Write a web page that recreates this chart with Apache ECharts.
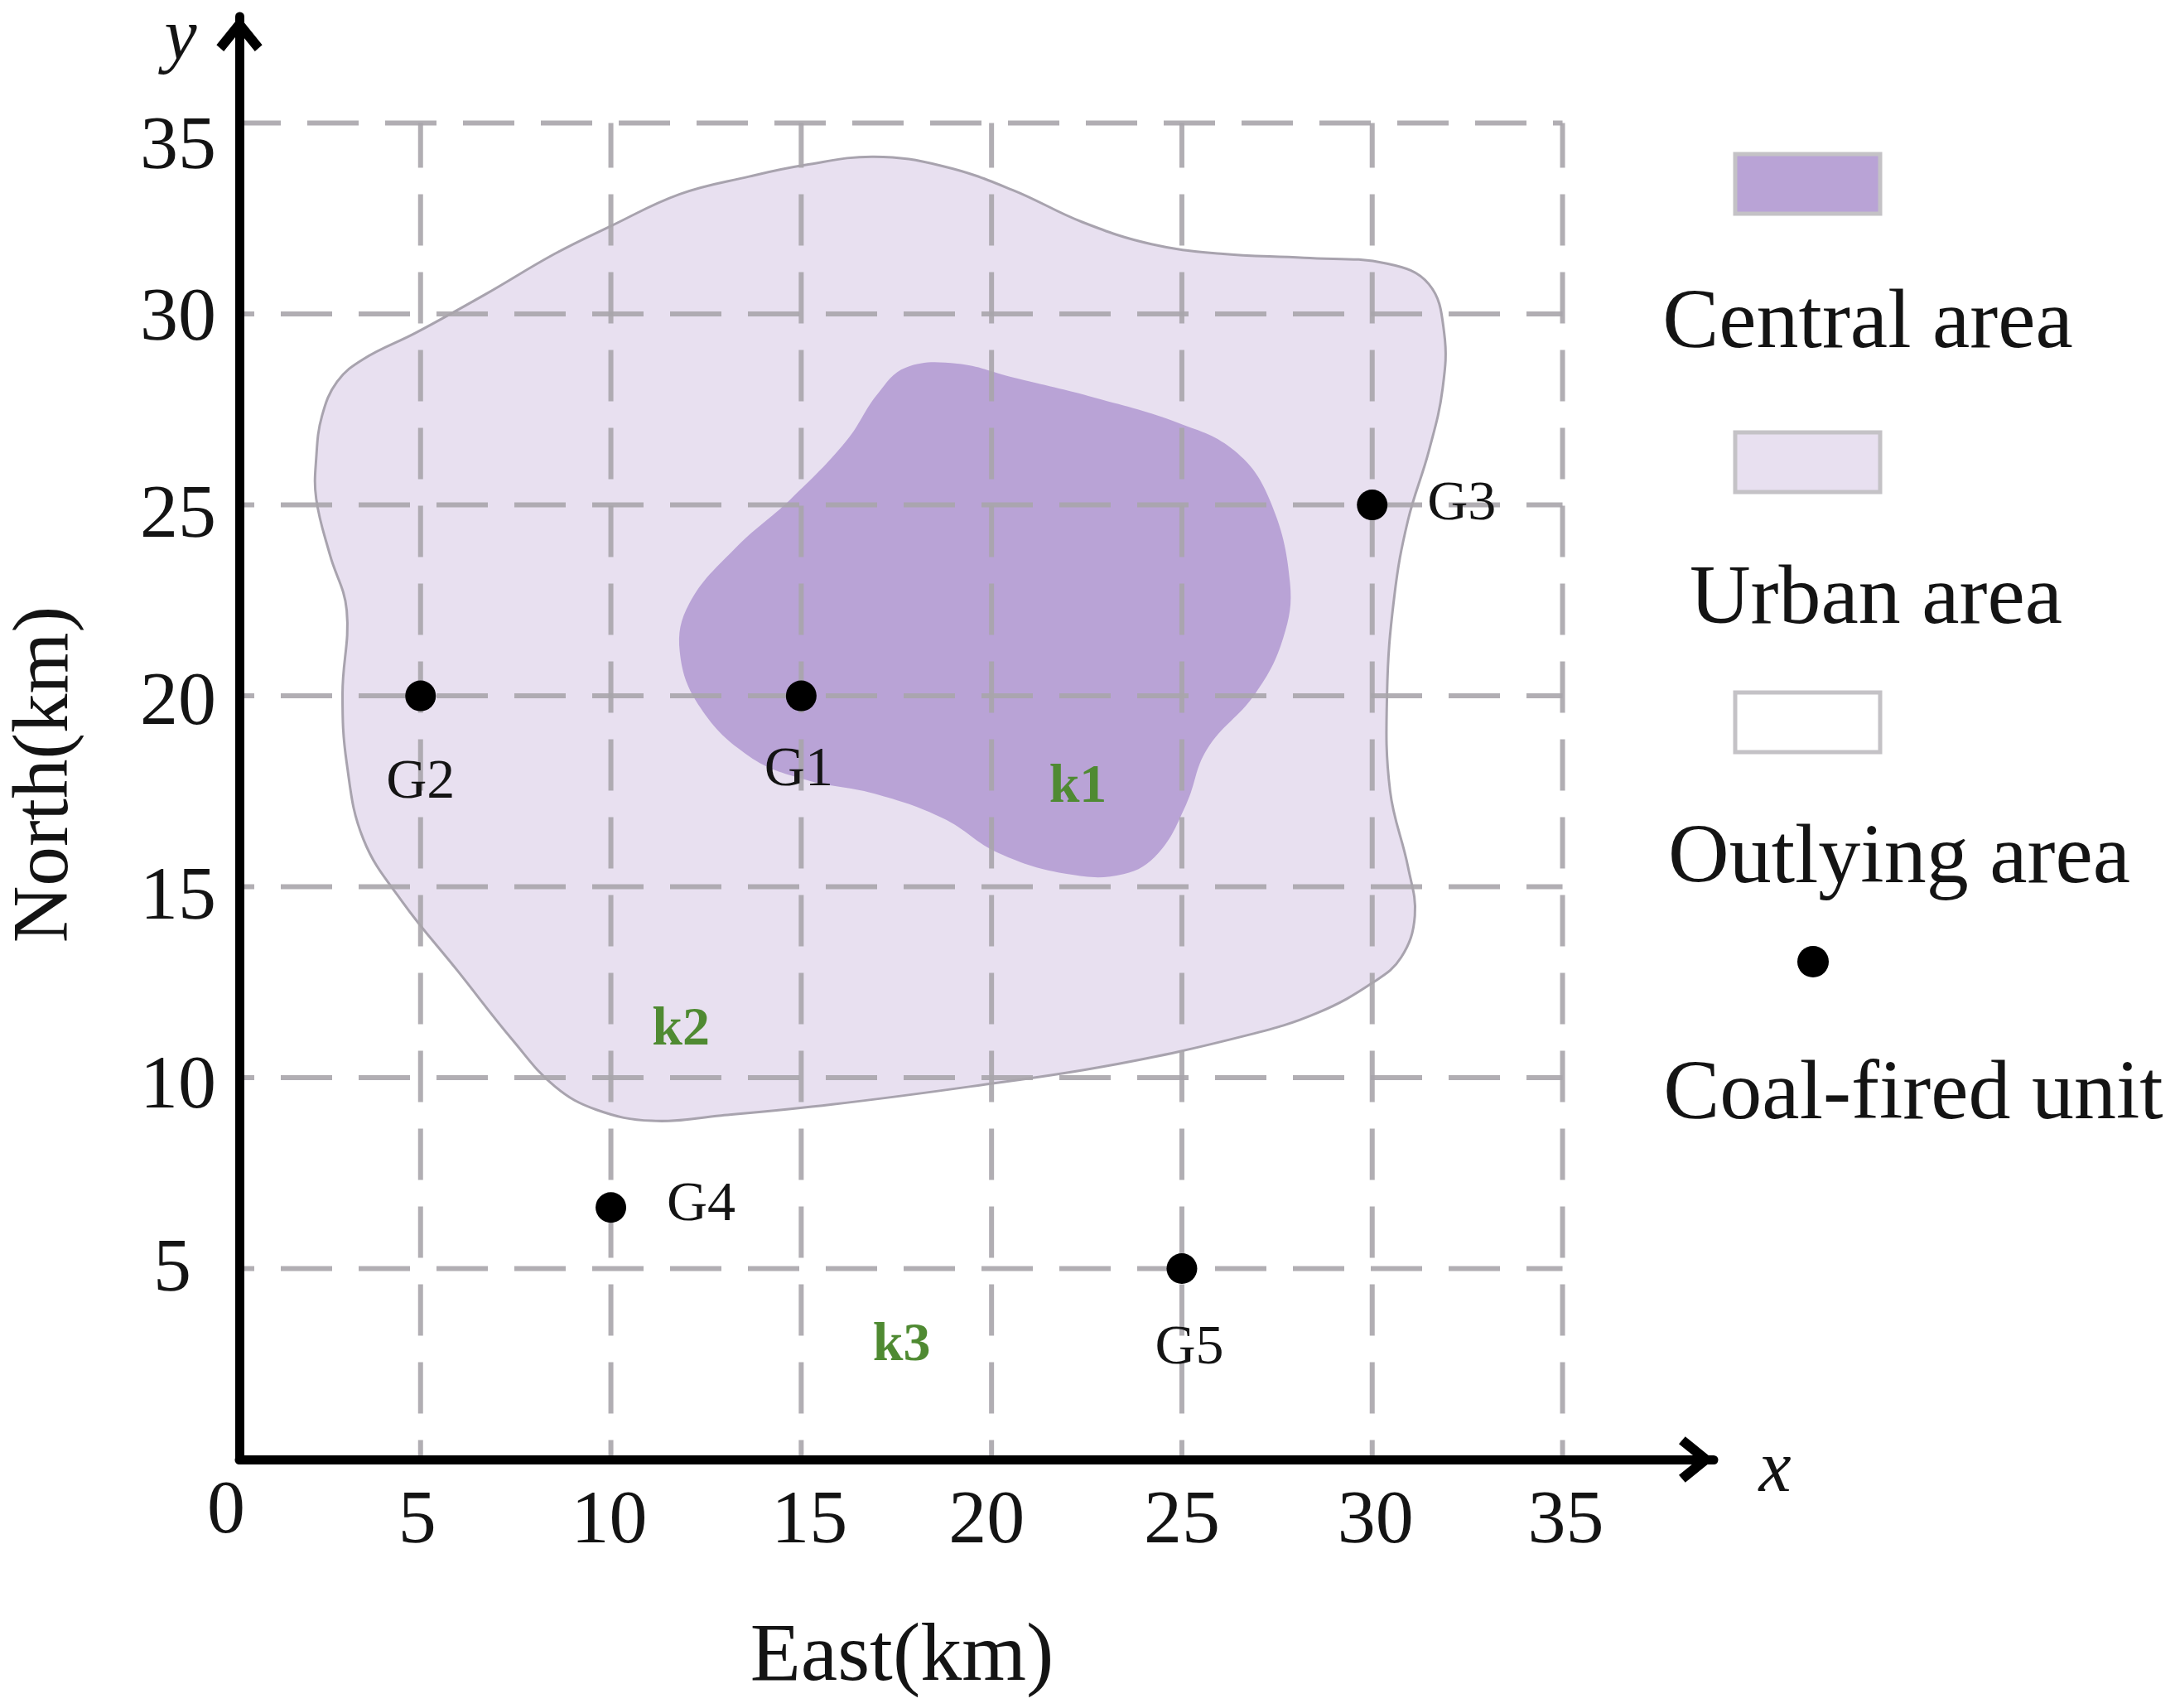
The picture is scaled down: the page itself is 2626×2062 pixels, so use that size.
<!DOCTYPE html>
<html><head><meta charset="utf-8">
<style>html,body{margin:0;padding:0;background:#fff}#c{width:2626px;height:2062px}</style>
<script src="https://cdn.jsdelivr.net/npm/echarts@6/dist/echarts.min.js"></script>
</head><body><div id="c"></div>
<script>
const xTicks = [5, 10, 15, 20, 25, 30, 35];
const yTicks = [5, 10, 15, 20, 25, 30, 35];
const urbanBoundary = [[2.26,26.24],[2.41,27.33],[2.81,28.23],[3.5,28.82],[4.88,29.51],[6.71,30.52],[8.53,31.58],[9.99,32.3],[11.81,33.14],[13.63,33.6],[15.09,33.9],[16.91,34.12],[18.73,33.87],[20.55,33.25],[22.38,32.41],[24.2,31.83],[26.02,31.58],[28.21,31.47],[30.39,31.32],[31.49,30.78],[31.89,29.51],[31.85,28.05],[31.49,26.42],[30.94,24.6],[30.58,22.6],[30.39,20.06],[30.47,17.51],[30.94,15.52],[31.12,14.24],[30.76,13.15],[30.03,12.5],[28.57,11.7],[26.75,11.12],[23.1,10.32],[19.46,9.77],[15.82,9.3],[12.9,9.01],[11.08,8.87],[9.62,9.16],[8.53,9.77],[7.43,10.97],[5.98,12.79],[4.52,14.61],[3.5,16.24],[3.06,18.24],[2.95,20.06],[3.06,22.24],[2.62,23.69],[2.26,25.15]];
const centralBoundary = [[17.75,28.6],[19.1,28.7],[20.55,28.34],[22.74,27.8],[24.93,27.14],[26.38,26.42],[27.3,25.15],[27.84,22.97],[27.66,21.51],[26.93,20.06],[25.66,18.6],[25.11,17.15],[24.38,15.88],[23.47,15.33],[22.01,15.33],[20.19,15.88],[18.73,16.79],[16.91,17.44],[15.09,17.81],[13.63,18.42],[12.35,19.69],[11.81,21.15],[12.06,22.42],[13.27,23.87],[14.72,25.15],[16.18,26.67],[17.0,27.9]];
const unitNames = ['G1', 'G2', 'G3', 'G4', 'G5'];
const unitEast = [15, 5, 30, 10, 25];
const unitNorth = [20, 20, 25, 6.6, 5];
const zoneNames = ['k1', 'k2', 'k3'];
const zoneEast = [22.27, 11.84, 17.64];
const zoneNorth = [17.59, 11.23, 2.98];
const legendNames = ['Central area', 'Urban area', 'Outlying area', 'Coal-fired unit'];

const SERIF = '"Liberation Serif","Times New Roman",serif';
const TXT = '#141414', GRID = '#a9a5ab';
const X_MIN = 0.24, X_MAX = 38.97, Y_MAX = 37.79;
const unitOffsets = [[-3, 90], [0, 105], [108, 0], [109, -3], [9, 97]];
const yShift = {5: 2, 10: 12, 15: 14, 20: 10, 25: 14, 30: 7, 35: 30};
const xShift = {5: -4, 10: -2, 15: 10, 20: -6, 25: 0, 30: 4, 35: 4};

function rich(map, horizontal) {
  const r = {};
  for (const k in map) {
    const s = map[k];
    const base = {fontFamily: SERIF, fontSize: 92, color: TXT};
    base.padding = horizontal ? [0, s < 0 ? -2 * s : 0, 0, s > 0 ? 2 * s : 0] : [2 * s, k === '5' ? 30 : 0, 0, 0];
    r['t' + k] = base;
  }
  return r;
}
function polygonSeries(name, pts, fill, stroke, z) {
  return {
    type: 'custom', name, data: pts, z, silent: true, clip: false, animation: false,
    encode: {x: 0, y: 1},
    renderItem(params, api) {
      if (params.dataIndex !== 0) return null;
      return {type: 'polygon',
        shape: {points: pts.map(p => api.coord(p)), smooth: 0.4},
        style: {fill, stroke, lineWidth: stroke === 'none' ? 0 : 3}};
    }
  };
}
function gridSeries(data, offset) {
  return {type: 'line', data, z: 4, silent: true, symbol: 'none', animation: false, clip: false,
    lineStyle: {color: GRID, width: 6, type: [62, 32], dashOffset: offset, opacity: 0.9}};
}
const series = [
  polygonSeries('Urban area', urbanBoundary, '#e8e0f0', '#a8a3ae', 1),
  polygonSeries('Central area', centralBoundary, '#b9a3d6', 'none', 2)
];
xTicks.forEach(v => series.push(gridSeries([[v, 35], [v, 0]], 8)));
yTicks.forEach(v => series.push(gridSeries([[X_MIN, v], [35, v]], v === 35 ? 12 : 44)));
series.push({
  type: 'scatter', name: 'Coal-fired unit', z: 6, symbolSize: 37, animation: false, silent: true,
  itemStyle: {color: '#000', opacity: 1},
  data: unitNames.map((n, i) => ({value: [unitEast[i], unitNorth[i]], name: n,
    label: {show: true, position: 'inside', offset: unitOffsets[i], formatter: n,
      fontFamily: SERIF, fontSize: 68, color: TXT}}))
});
series.push({
  type: 'scatter', name: 'Zones', z: 6, symbolSize: 2, animation: false, silent: true,
  itemStyle: {color: 'transparent', opacity: 1},
  data: zoneNames.map((n, i) => ({value: [zoneEast[i], zoneNorth[i]], name: n,
    label: {show: true, position: 'inside', formatter: n, fontFamily: SERIF, fontWeight: 'bold',
      fontSize: 66, color: '#4f8a32'}}))
});
series.push({
  type: 'scatter', name: 'Origin', z: 6, symbolSize: 2, animation: false, silent: true, clip: false,
  itemStyle: {color: 'transparent', opacity: 1},
  data: [{value: [X_MIN, 0], label: {show: true, position: 'inside', offset: [-16, 64], formatter: '0',
    fontFamily: SERIF, fontSize: 92, color: TXT}}]
});
const chevron = 'path://M50 0 L100 62 L84 76 L50 34 L16 76 L0 62 Z';
const leg = (txt, x, base) => ({type: 'text', x, y: base - 74, z: 10,
  style: {text: txt, fill: TXT, font: '102px ' + SERIF, align: 'center'}});
const box = (y, fill) => ({type: 'rect', z: 10, shape: {x: 2095, y, width: 175, height: 72},
  style: {fill, stroke: '#c4c2c6', lineWidth: 5}});
const option = {
  backgroundColor: '#fff', animation: false,
  grid: {left: 289, top: 20, width: 1780, height: 1742, containLabel: false, outerBoundsMode: 'none'},
  xAxis: {type: 'value', min: X_MIN, max: X_MAX, z: 5,
    name: 'East(km)', nameLocation: 'middle', nameGap: 190,
    nameTextStyle: {fontFamily: SERIF, fontSize: 100, color: TXT, padding: [0, 180, 0, 0]},
    axisLine: {show: true, onZero: false, symbol: ['none', chevron], symbolSize: [62, 42], symbolOffset: [0, -21],
      lineStyle: {color: '#000', width: 11}},
    axisTick: {show: false}, splitLine: {show: false},
    axisLabel: {customValues: xTicks, margin: 30, fontFamily: SERIF, fontSize: 92, color: TXT,
      formatter: v => `{t${v}|${v}}`, rich: rich(xShift, true)}},
  yAxis: {type: 'value', min: 0, max: Y_MAX, z: 5,
    name: 'North(km)', nameLocation: 'middle', nameGap: 185,
    nameTextStyle: {fontFamily: SERIF, fontSize: 95, color: TXT, padding: [0, 88, 0, 0]},
    axisLine: {show: true, onZero: false, symbol: ['none', chevron], symbolSize: [62, 42], symbolOffset: [0, -21],
      lineStyle: {color: '#000', width: 11}},
    axisTick: {show: false}, splitLine: {show: false},
    axisLabel: {customValues: yTicks, margin: 28, fontFamily: SERIF, fontSize: 92, color: TXT,
      formatter: v => `{t${v}|${v}}`, rich: rich(yShift, false)}},
  series,
  graphic: [
    box(186, '#b9a3d6'), box(522, '#e8e0f0'), box(836, '#ffffff'),
    {type: 'circle', z: 10, shape: {cx: 2189, cy: 1161, r: 19}, style: {fill: '#000'}},
    leg(legendNames[0], 2255, 415), leg(legendNames[1], 2265, 748),
    leg(legendNames[2], 2293, 1061), leg(legendNames[3], 2310, 1346),
    {type: 'text', x: 218, y: 4, z: 10, style: {text: 'y', fill: TXT, font: 'italic 88px ' + SERIF, align: 'center'}},
    {type: 'text', x: 2143, y: 1733, z: 10, style: {text: 'x', fill: TXT, font: 'italic 88px ' + SERIF, align: 'center'}}
  ]
};
echarts.init(document.getElementById('c')).setOption(option);
</script></body></html>
